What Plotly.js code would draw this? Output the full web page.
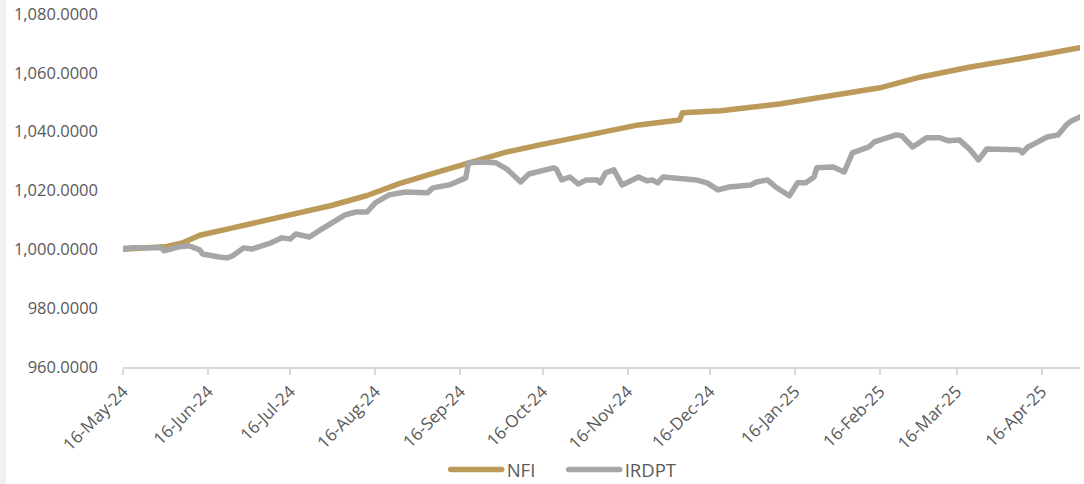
<!DOCTYPE html>
<html>
<head>
<meta charset="utf-8">
<script src="https://cdn.plot.ly/plotly-3.0.1.min.js"></script>
<style>
  html, body { margin: 0; padding: 0; background: #ffffff; }
  #strip { position: absolute; left: 0; top: 0; width: 6px; height: 484px; background: #f0f0f0; z-index: 2; }
  #chart { position: absolute; left: 0; top: 0; width: 1084px; height: 484px; }
  #chart path.js-line { stroke-linejoin: round; stroke-linecap: round; }
</style>
</head>
<body>
<div id="strip"></div>
<div id="chart"></div>
<script>
// NFI series
const nfiDates = ["2024-05-16","2024-06-01","2024-06-07","2024-06-13","2024-06-25","2024-07-07","2024-07-19","2024-07-31","2024-08-13","2024-08-25","2024-09-08","2024-09-20","2024-10-03","2024-10-15","2024-10-27","2024-11-08","2024-11-20","2024-12-05","2024-12-06","2024-12-20","2024-12-31","2025-01-11","2025-01-29","2025-02-16","2025-03-03","2025-03-21","2025-04-08","2025-04-30"];
const nfiValues = [1000.0,1001.0,1002.3,1004.8,1007.3,1009.8,1012.2,1014.9,1018.3,1022.4,1026.3,1029.4,1033.1,1035.5,1037.9,1039.9,1042.3,1044.0,1046.4,1047.1,1048.4,1049.5,1052.2,1054.9,1058.6,1062.0,1064.8,1068.5];

// IRDPT series
const irdptDates = ["2024-05-16","2024-05-20","2024-05-30","2024-05-31","2024-06-05","2024-06-09","2024-06-13","2024-06-14","2024-06-20","2024-06-23","2024-06-25","2024-06-29","2024-07-02","2024-07-09","2024-07-13","2024-07-16","2024-07-18","2024-07-23","2024-07-27","2024-07-31","2024-08-05","2024-08-09","2024-08-13","2024-08-16","2024-08-21","2024-08-27","2024-09-04","2024-09-06","2024-09-12","2024-09-18","2024-09-19","2024-09-24","2024-09-29","2024-10-03","2024-10-08","2024-10-11","2024-10-20","2024-10-21","2024-10-23","2024-10-26","2024-10-29","2024-11-01","2024-11-05","2024-11-06","2024-11-08","2024-11-11","2024-11-14","2024-11-20","2024-11-23","2024-11-25","2024-11-27","2024-11-29","2024-12-05","2024-12-11","2024-12-15","2024-12-19","2024-12-23","2024-12-31","2025-01-02","2025-01-06","2025-01-09","2025-01-14","2025-01-17","2025-01-20","2025-01-23","2025-01-24","2025-01-30","2025-02-03","2025-02-06","2025-02-12","2025-02-14","2025-02-18","2025-02-22","2025-02-24","2025-02-28","2025-03-05","2025-03-10","2025-03-13","2025-03-17","2025-03-21","2025-03-24","2025-03-27","2025-04-08","2025-04-09","2025-04-11","2025-04-14","2025-04-18","2025-04-22","2025-04-25","2025-04-27","2025-04-30"];
const irdptValues = [1000.3,1000.5,1000.5,999.5,1000.8,1001.2,999.8,998.4,997.4,997.1,997.8,1000.5,1000.1,1002.2,1003.9,1003.5,1005.2,1004.2,1006.6,1009.0,1011.7,1012.7,1012.7,1015.8,1018.5,1019.5,1019.2,1020.9,1021.9,1024.3,1029.4,1029.7,1029.4,1027.3,1022.9,1025.6,1027.7,1027.3,1023.6,1024.6,1022.2,1023.6,1023.6,1022.6,1026.0,1027.0,1021.9,1024.6,1023.3,1023.6,1022.6,1024.6,1023.9,1023.6,1022.6,1020.2,1021.2,1021.9,1022.9,1023.6,1021.2,1018.2,1022.6,1022.6,1024.6,1027.7,1028.0,1026.3,1032.8,1034.8,1036.5,1037.9,1038.9,1038.6,1034.8,1037.9,1037.9,1036.9,1037.2,1033.8,1030.4,1034.1,1033.8,1032.8,1034.8,1036.2,1038.2,1038.9,1042.3,1043.7,1045.0];

// Axis ticks
const xTickVals = ["2024-05-16","2024-06-16","2024-07-16","2024-08-16","2024-09-16","2024-10-16","2024-11-16","2024-12-16","2025-01-16","2025-02-16","2025-03-16","2025-04-16"];
const xTickText = ["16-May-24","16-Jun-24","16-Jul-24","16-Aug-24","16-Sep-24","16-Oct-24","16-Nov-24","16-Dec-24","16-Jan-25","16-Feb-25","16-Mar-25","16-Apr-25"];
const yTickVals = [960,980,1000,1020,1040,1060,1080];

const font = "'Open Sans', 'Noto Sans', sans-serif";

const traces = [
  { x: nfiDates, y: nfiValues, name: "NFI", type: "scatter", mode: "lines",
    line: { color: "#BC9A5A", width: 5.5 } },
  { x: irdptDates, y: irdptValues, name: "IRDPT", type: "scatter", mode: "lines",
    line: { color: "#A6A6A6", width: 5.5 } }
];

const layout = {
  width: 1084, height: 484,
  margin: { l: 123, r: 4, t: 14, b: 117, autoexpand: false },
  paper_bgcolor: "rgba(0,0,0,0)",
  plot_bgcolor: "#ffffff",
  font: { family: font, color: "#595959", size: 16 },
  showlegend: true,
  legend: {
    orientation: "h",
    xref: "container", x: 0.52, xanchor: "center",
    yref: "container", y: 0.029, yanchor: "middle",
    font: { family: font, size: 18.5, color: "#595959" },
    itemwidth: 51, entrywidth: 52, entrywidthmode: "pixels", tracegroupgap: 0
  },
  xaxis: {
    type: "date",
    automargin: false,
    range: ["2024-05-16", "2025-04-30"],
    tickvals: xTickVals, ticktext: xTickText,
    tickangle: -45,
    showgrid: false, zeroline: false,
    showline: true, linecolor: "#d9d9d9", linewidth: 2,
    ticks: "outside", ticklen: 6, tickwidth: 2, tickcolor: "#d9d9d9",
    tickfont: { family: font, size: 17, color: "#595959" }
  },
  yaxis: {
    automargin: false,
    range: [960, 1080],
    tickvals: yTickVals,
    tickformat: ",.4f",
    showgrid: false, zeroline: false, showline: false,
    ticks: "", ticklabelstandoff: 24,
    tickfont: { family: font, size: 16.5, color: "#595959" }
  }
};

Plotly.newPlot("chart", traces, layout, { displayModeBar: false, staticPlot: true });
</script>
</body>
</html>
